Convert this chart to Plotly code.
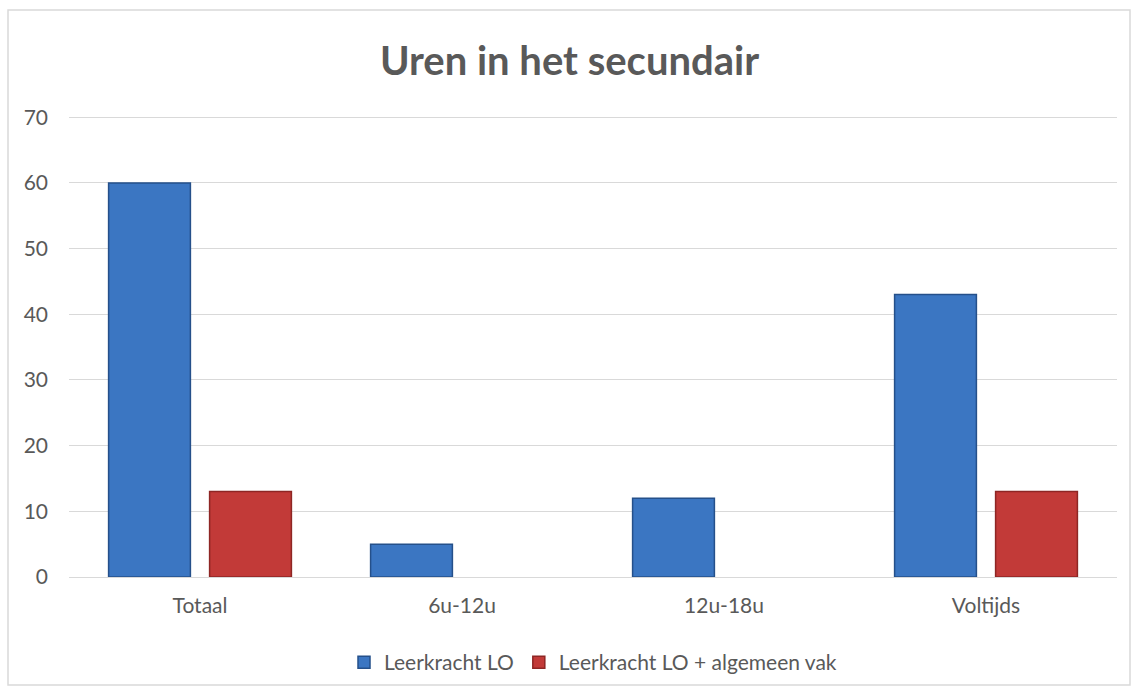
import plotly.graph_objects as go

categories = ["Totaal", "6u-12u", "12u-18u", "Voltijds"]
leerkracht_lo = [60, 5, 12, 43]
leerkracht_lo_alg = [13, 0, 0, 13]
y_ticks = [0, 10, 20, 30, 40, 50, 60, 70]

font_family = "Lato, Open Sans, sans-serif"
text_grey = "#595959"


def outline_widths(values):
    # no outline on empty bars, otherwise a flat line shows at zero
    return [1.5 if v else 0 for v in values]


fig = go.Figure()
fig.add_trace(go.Bar(
    x=categories, y=leerkracht_lo, name="Leerkracht LO",
    marker=dict(color="#3B76C2",
                line=dict(color="#25508A", width=outline_widths(leerkracht_lo))),
))
fig.add_trace(go.Bar(
    x=categories, y=leerkracht_lo_alg, name="Leerkracht LO + algemeen vak",
    marker=dict(color="#C23A38",
                line=dict(color="#8E2624", width=outline_widths(leerkracht_lo_alg))),
))

# chart frame around the whole picture
fig.add_shape(type="rect", xref="paper", yref="paper",
              x0=-0.0582, x1=1.0124, y0=-0.2333, y1=1.2246,
              line=dict(color="#D9D9D9", width=1.5), layer="below")

fig.update_layout(
    width=1139, height=688,
    margin=dict(l=69, r=22, t=114, b=111),
    paper_bgcolor="white", plot_bgcolor="white",
    barmode="group", bargap=0.229, bargroupgap=0.19,
    title=dict(text="<b>Uren in het secundair</b>", x=0.5, xanchor="center",
               yref="container", y=0.912, yanchor="middle",
               font=dict(family=font_family, size=40, color=text_grey)),
    font=dict(family=font_family, size=21, color=text_grey),
    legend=dict(orientation="h", x=0.5, xanchor="center",
                yref="container", y=0.037, yanchor="middle",
                font=dict(size=21, color=text_grey), traceorder="normal",
                itemwidth=30),
    showlegend=True,
)
fig.update_yaxes(range=[0, 70.5], tickvals=y_ticks, showgrid=True, gridcolor="#D9D9D9",
                 gridwidth=1, zeroline=False, showline=False, ticklabelstandoff=20,
                 tickfont=dict(size=21, color=text_grey), automargin=False)
fig.update_xaxes(showline=True, linecolor="#D9D9D9", linewidth=1, showgrid=False,
                 ticklabelstandoff=10, tickfont=dict(size=21, color=text_grey),
                 automargin=False)

fig.write_html("out.html", config={"displayModeBar": False},
               post_script="document.body.style.margin='0';document.body.style.overflow='hidden';")
